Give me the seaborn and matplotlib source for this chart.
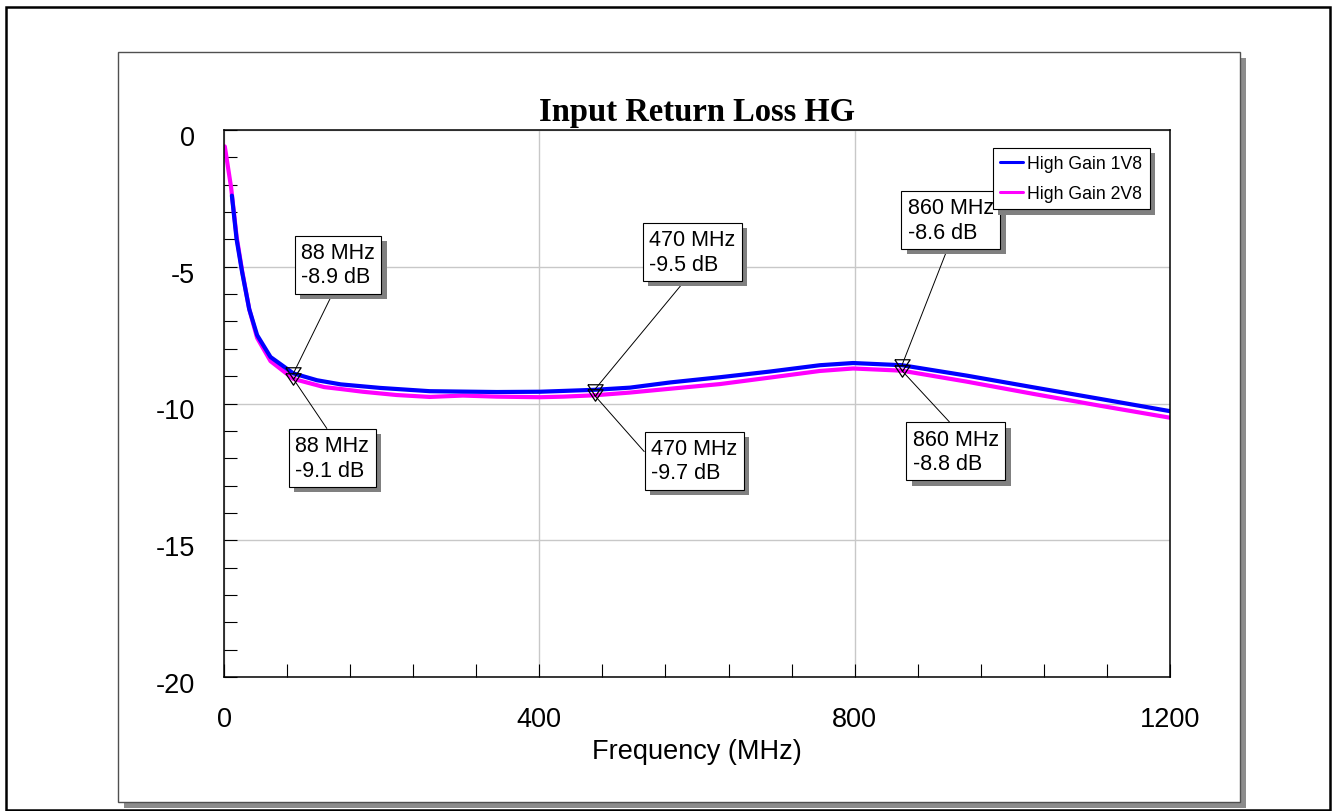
import matplotlib
matplotlib.use("Agg")
import matplotlib.pyplot as plt
import matplotlib.patheffects as pe
import matplotlib.transforms as mtransforms
from matplotlib.patches import Rectangle
from matplotlib.ticker import FixedLocator, MultipleLocator
import seaborn as sns

# ---- measured S11 traces (dB) ----
freq_1v8 = [10, 16, 23, 32, 42, 59, 88, 118, 148, 198, 261, 346, 401, 470, 515,
            566, 629, 693, 756, 798, 860, 942, 1027, 1111, 1200]
s11_1v8 = [-2.4, -4.0, -5.2, -6.55, -7.5, -8.3, -8.9, -9.15, -9.3, -9.43, -9.55,
           -9.58, -9.57, -9.5, -9.42, -9.23, -9.04, -8.83, -8.6, -8.52, -8.6,
           -8.98, -9.41, -9.83, -10.28]

freq_2v8 = [1, 9, 16, 23, 32, 42, 59, 88, 127, 148, 176, 219, 261, 303, 346, 401,
            430, 470, 515, 566, 629, 693, 756, 798, 860, 942, 1027, 1111, 1200]
s11_2v8 = [-0.6, -2.1, -3.9, -5.15, -6.55, -7.6, -8.45, -9.1, -9.4, -9.47, -9.57,
           -9.69, -9.76, -9.71, -9.75, -9.77, -9.75, -9.7, -9.6, -9.46, -9.29,
           -9.05, -8.81, -8.72, -8.8, -9.2, -9.65, -10.08, -10.52]

# ---- marker readouts ----
marker_freq = [88, 470, 860]
marker_1v8 = [-8.9, -9.5, -8.6]
marker_2v8 = [-9.1, -9.7, -8.8]

series_names = ["High Gain 1V8", "High Gain 2V8"]
series_colors = ["#0000ff", "#ff00ff"]

x_ticks = [0, 400, 800, 1200]
x_tick_labels = ["0", "400", "800", "1200"]
y_ticks = [0, -5, -10, -15, -20]
y_tick_labels = ["0", "-5", "-10", "-15", "-20"]

title = "Input Return Loss HG"
x_label = "Frequency (MHz)"

sns.set_theme(style="white")
plt.rcParams["font.family"] = ["Liberation Sans", "DejaVu Sans"]
plt.rcParams["axes.unicode_minus"] = False
plt.rcParams["text.color"] = "black"

W, H = 1332, 812
fig = plt.figure(figsize=(W / 100, H / 100), dpi=100)
fig.patch.set_facecolor("white")


def fx(px):
    return px / W


def fy(py):
    return 1 - py / H


# page frame and chart panel with drop shadow
fig.add_artist(Rectangle((fx(6), fy(811)), fx(1330) - fx(6), fy(8) - fy(811),
                         transform=fig.transFigure, fill=False,
                         edgecolor="black", lw=1.8, zorder=-3))
fig.add_artist(Rectangle((fx(124), fy(809)), fx(1246) - fx(124), fy(59) - fy(809),
                         transform=fig.transFigure, facecolor="#8c8c8c",
                         edgecolor="none", zorder=-2))
fig.add_artist(Rectangle((fx(118), fy(803)), fx(1240) - fx(118), fy(53) - fy(803),
                         transform=fig.transFigure, facecolor="white",
                         edgecolor="#505050", lw=1.0, zorder=-1))

ax = fig.add_axes([fx(224), fy(678), fx(1170) - fx(224), fy(131) - fy(678)])
ax.set_facecolor("white")

# 2V8 first so the 1V8 trace sits on top
sns.lineplot(x=freq_2v8, y=s11_2v8, color=series_colors[1], lw=3.0,
             ax=ax, label=series_names[1], sort=False)
sns.lineplot(x=freq_1v8, y=s11_1v8, color=series_colors[0], lw=3.0,
             ax=ax, label=series_names[0], sort=False)

# open down-pointing marker triangles
tri = [(-1, 0.75), (1, 0.75), (0, -0.75), (-1, 0.75)]
for vals in (marker_1v8, marker_2v8):
    ax.plot(marker_freq, vals, linestyle="none", marker=tri, ms=11,
            mfc="none", mec="black", mew=0.9, zorder=3.5)

# marker callouts: text anchor (data units) and leader attachment point on the box
callout_layout = {
    ("1V8", 88): ((97.7, -4.92), (0.47, 0.0)),
    ("2V8", 88): ((90.4, -11.99), (0.49, 1.0)),
    ("1V8", 470): ((539.5, -4.46), (0.47, 0.0)),
    ("2V8", 470): ((541.7, -12.09), (0.0, 0.53)),
    ("1V8", 860): ((867.3, -3.29), (0.49, 0.0)),
    ("2V8", 860): ((873.6, -11.75), (0.5, 1.0)),
}
shadow = [pe.SimplePatchShadow(offset=(3.8, -3.8), shadow_rgbFace="#808080", alpha=1.0),
          pe.Normal()]
for key, vals in (("1V8", marker_1v8), ("2V8", marker_2v8)):
    for f, v in zip(marker_freq, vals):
        (tx, ty), rp = callout_layout[(key, f)]
        ann = ax.annotate(
            f"{f} MHz\n{v:.1f} dB", xy=(f, v), xytext=(tx, ty),
            textcoords="data", ha="left", va="center", fontsize=15.5,
            linespacing=1.2, color="black", zorder=4, annotation_clip=False,
            bbox=dict(boxstyle="square,pad=0.3", fc="white", ec="black", lw=0.8),
            arrowprops=dict(arrowstyle="-", color="black", lw=0.7,
                            shrinkA=0, shrinkB=0, relpos=rp),
        )
        ann.get_bbox_patch().set_path_effects(shadow)

# axes, ticks and grid
ax.set_xlim(0, 1200)
ax.set_ylim(-20, 0)
ax.xaxis.set_major_locator(FixedLocator(x_ticks))
ax.set_xticklabels(x_tick_labels)
ax.yaxis.set_major_locator(FixedLocator(y_ticks))
ax.set_yticklabels(y_tick_labels)
ax.xaxis.set_minor_locator(MultipleLocator(80))
ax.yaxis.set_minor_locator(MultipleLocator(1))
ax.tick_params(which="both", direction="in", length=9.4, width=0.8,
               color="black", left=True, bottom=True, top=False, right=False)
ax.tick_params(which="major", pad=21, labelsize=19.5, labelcolor="black")
ax.grid(True, which="major", color="#c8c8c8", lw=1.0)
ax.grid(False, which="minor")
ax.set_axisbelow(True)
for s in ax.spines.values():
    s.set_visible(True)
    s.set_color("black")
    s.set_linewidth(1.1)

shift = mtransforms.ScaledTranslation(0, -3.5 / 72, fig.dpi_scale_trans)
for lab in ax.get_yticklabels():
    lab.set_transform(lab.get_transform() + shift)

ax.set_xlabel(x_label, fontsize=19.5, labelpad=4, color="black")
ax.set_ylabel("")
ax.set_title(title, fontfamily=["Liberation Serif", "DejaVu Serif"],
             fontweight="bold", fontsize=23.5, pad=7, color="black")

# legend: 1V8 listed first
handles, labels = ax.get_legend_handles_labels()
order = [labels.index(n) for n in series_names]
leg = ax.legend([handles[i] for i in order], [labels[i] for i in order],
                loc="upper left", bbox_to_anchor=(0.813, 0.967), borderaxespad=0,
                fontsize=12.7, frameon=True, fancybox=False, framealpha=1,
                edgecolor="black", borderpad=0.4, handlelength=1.3,
                handletextpad=0.25, labelspacing=0.75, labelcolor="black")
leg.get_frame().set_linewidth(0.8)
leg.get_frame().set_path_effects(shadow)
leg.set_zorder(6)
for line in leg.get_lines():
    line.set_linewidth(2.2)

fig.savefig("out.png", dpi=100)
